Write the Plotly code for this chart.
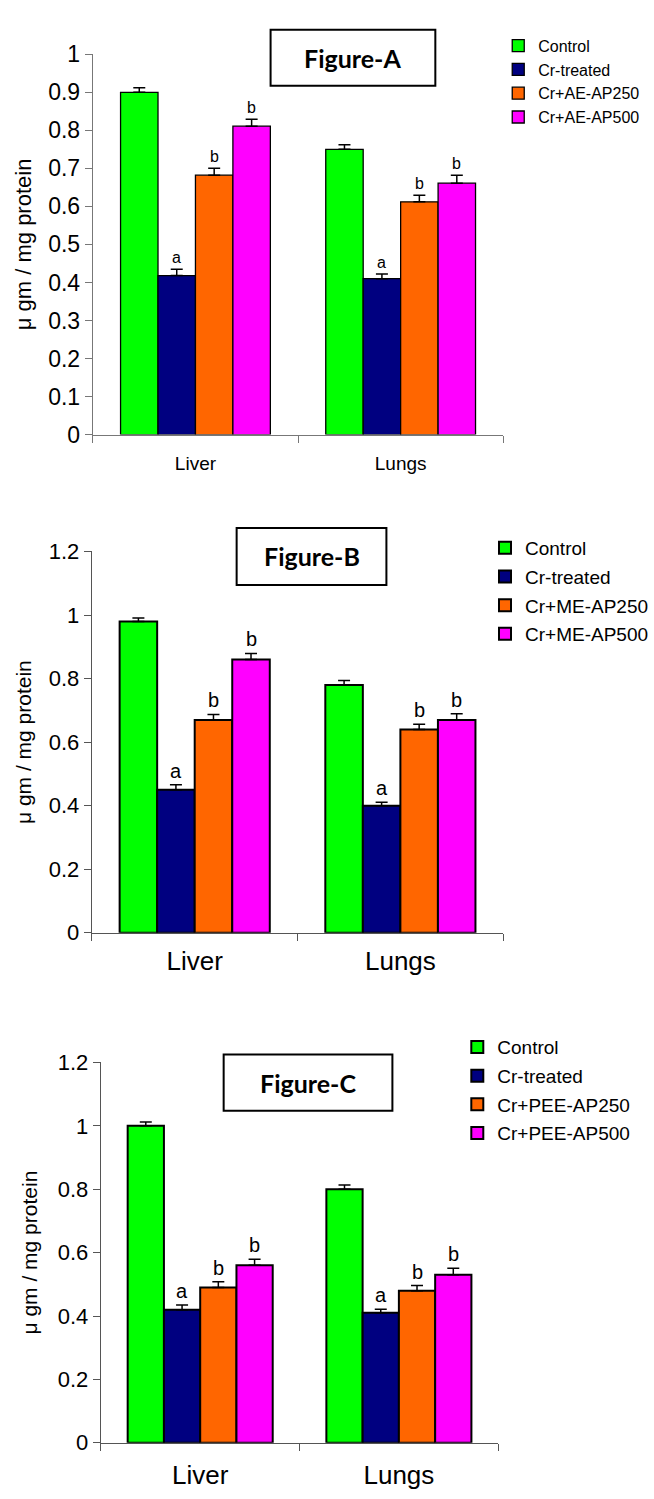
import plotly.graph_objects as go

W, H = 654, 1499

categories = ["Liver", "Lungs"]
colors = ["#00FF00", "#000080", "#FF6600", "#FF00FF"]

# Figure A
names_a = ["Control", "Cr-treated", "Cr+AE-AP250", "Cr+AE-AP500"]
vals_a = [[0.90, 0.75], [0.418, 0.41], [0.682, 0.612], [0.811, 0.661]]
errs_a = [[0.012, 0.012], [0.017, 0.012], [0.018, 0.017], [0.018, 0.021]]
# Figure B
names_b = ["Control", "Cr-treated", "Cr+ME-AP250", "Cr+ME-AP500"]
vals_b = [[0.98, 0.78], [0.45, 0.40], [0.67, 0.64], [0.86, 0.67]]
errs_b = [[0.011, 0.014], [0.016, 0.011], [0.017, 0.016], [0.019, 0.019]]
# Figure C
names_c = ["Control", "Cr-treated", "Cr+PEE-AP250", "Cr+PEE-AP500"]
vals_c = [[1.00, 0.80], [0.42, 0.41], [0.49, 0.48], [0.56, 0.53]]
errs_c = [[0.012, 0.013], [0.015, 0.011], [0.018, 0.016], [0.019, 0.021]]

sig_letters = ["", "a", "b", "b"]

BARGAP = 0.27

def px_x(p):
    return p / W

def px_y(p):
    return 1 - p / H

panels = [
    dict(names=names_a, vals=vals_a, errs=errs_a, title="Figure-A", xd=(93, 504), y0=429, ytop=42,
         yr=1.0, dtick=0.1, tickfont=23, titlefont=22, tstand=10, xfont=19, xstand=12, letfont=16,
         legx=499, legy=16, legfont=16, leggap=0, box=(271, 17, 436, 74), boxfont=25, lw=1.3,
         axcol="#777777"),
    dict(names=names_b, vals=vals_b, errs=errs_b, title="Figure-B", xd=(92, 504), y0=936, ytop=548,
         yr=1.2, dtick=0.2, tickfont=22, titlefont=21, tstand=11, xfont=26, xstand=5, letfont=20,
         legx=486, legy=525, legfont=19, leggap=1, box=(237, 524, 387, 582), boxfont=25, lw=2,
         axcol="#555555"),
    dict(names=names_c, vals=vals_c, errs=errs_c, title="Figure-C", xd=(101, 499), y0=1455, ytop=1068,
         yr=1.2, dtick=0.2, tickfont=22, titlefont=21, tstand=14, xfont=26, xstand=9, letfont=20,
         legx=458, legy=1033, legfont=19, leggap=1, box=(224, 1060, 393, 1117), boxfont=25, lw=2,
         axcol="#555555"),
]

fig = go.Figure()
annotations = []
shapes = []
layout = {}

for k, p in enumerate(panels):
    sfx = "" if k == 0 else str(k + 1)
    xa, ya = "x" + sfx, "y" + sfx
    leg = "legend" + sfx
    n = len(p["names"])
    bw = (1 - BARGAP) / n
    for i in range(n):
        fig.add_trace(go.Bar(
            x=categories, y=p["vals"][i], name=p["names"][i],
            marker=dict(color=colors[i], line=dict(color="black", width=p["lw"])),
            error_y=dict(type="data", symmetric=False, array=p["errs"][i],
                         arrayminus=[0] * len(categories), color="black", thickness=1.5, width=6),
            xaxis=xa, yaxis=ya, legend=leg, legendgroup=f"{k}-{i}",
        ))
        off = -(1 - BARGAP) / 2 + bw * (i + 0.5)
        for j, c in enumerate(categories):
            if sig_letters[i]:
                annotations.append(dict(
                    x=j + off, y=p["vals"][i][j] + p["errs"][i][j], xref=xa, yref=ya,
                    text=sig_letters[i], showarrow=False, yanchor="bottom", yshift=1,
                    font=dict(family="Liberation Sans, Arial", size=p["letfont"], color="black")))
    y_dom = (px_y(p["y0"]), px_y(p["ytop"]))
    layout["xaxis" + sfx] = dict(
        domain=[px_x(p["xd"][0]), px_x(p["xd"][1])], anchor=ya, type="category",
        showline=True, linecolor=p["axcol"], linewidth=1.2, ticks="outside", tickson="boundaries",
        ticklen=7, tickcolor=p["axcol"], tickfont=dict(size=p["xfont"], color="black"),
        ticklabelstandoff=p["xstand"],
        showgrid=False, zeroline=False, fixedrange=True)
    layout["yaxis" + sfx] = dict(
        domain=list(y_dom), anchor=xa, range=[0, p["yr"]], dtick=p["dtick"],
        showline=True, linecolor=p["axcol"], linewidth=1.2, ticks="outside", ticklen=7,
        tickcolor=p["axcol"], tickfont=dict(size=p["tickfont"], color="black"),
        showgrid=False, zeroline=False,
        title=dict(text="μ gm / mg protein", font=dict(size=p["titlefont"], color="black"),
                   standoff=p["tstand"]))
    layout[leg] = dict(
        x=px_x(p["legx"]), y=px_y(p["legy"]), xanchor="left", yanchor="top",
        font=dict(size=p["legfont"], color="black", family="Liberation Sans, Arial"),
        itemwidth=30, bgcolor="rgba(0,0,0,0)", tracegroupgap=p["leggap"])
    bx0, by0, bx1, by1 = p["box"]
    shapes.append(dict(type="rect", xref="paper", yref="paper",
                       x0=px_x(bx0), x1=px_x(bx1), y0=px_y(by1), y1=px_y(by0),
                       line=dict(color="black", width=2), fillcolor="white"))
    annotations.append(dict(x=px_x((bx0 + bx1) / 2), y=px_y((by0 + by1) / 2), xref="paper", yref="paper",
                            text="<b>" + p["title"] + "</b>", showarrow=False,
                            xanchor="center", yanchor="middle",
                            font=dict(family="Lato, Carlito, Calibri", size=p["boxfont"], color="black")))

fig.update_layout(
    width=W, height=H, margin=dict(l=0, r=0, t=0, b=0),
    paper_bgcolor="white", plot_bgcolor="white",
    barmode="group", bargap=BARGAP, bargroupgap=0,
    font=dict(family="Liberation Sans, Arial", color="black"),
    annotations=annotations, shapes=shapes, showlegend=True,
    **layout)

fig.write_html("out.html")
